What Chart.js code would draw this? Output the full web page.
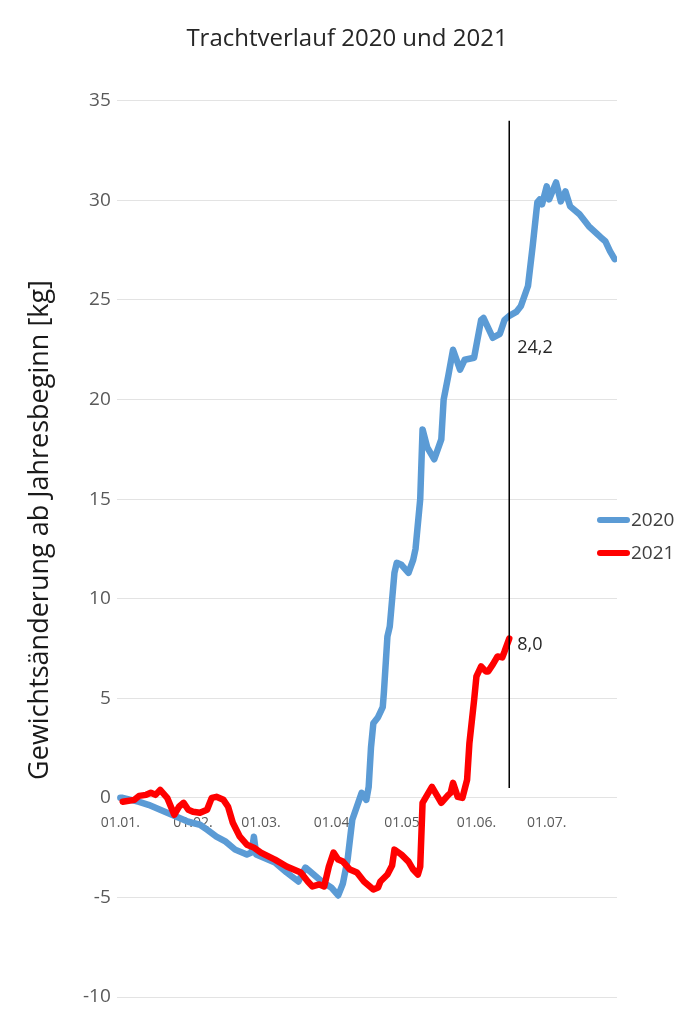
<!DOCTYPE html>
<html>
<head>
<meta charset="utf-8">
<title>Trachtverlauf 2020 und 2021</title>
<script src="https://cdn.jsdelivr.net/npm/chart.js@4.4.1/dist/chart.umd.min.js"></script>
<style>
  html, body { margin: 0; padding: 0; background: #fff; }
  #wrap { width: 685px; height: 1018px; position: relative; }
</style>
</head>
<body>
<div id="wrap"><canvas id="grafik"></canvas></div>
<script>
// Tage seit 01.01. und Gewichtsänderung [kg]
const tage2020 = [0, 1, 8, 12, 17, 21, 25, 29, 34, 37, 41, 45, 49, 54, 56, 57, 58, 60, 66, 71, 76, 79, 81, 86, 90, 93, 95, 97, 99,
  103, 105, 106, 107, 108, 110, 112, 112.5, 114, 115, 117, 118, 120, 123, 125, 126, 128, 129, 131, 134, 137, 138, 140, 142,
  145, 147, 151, 154, 155, 159, 162, 164, 166, 169, 171, 174, 176, 178, 179, 180, 182, 183, 186, 188, 190, 192, 196, 200,
  205, 207, 209, 211];
const werte2020 = [0, 0, -0.2, -0.35, -0.6, -0.8, -1.0, -1.2, -1.35, -1.6, -1.95, -2.2, -2.6, -2.85, -2.75, -1.95, -2.85, -2.95,
  -3.25, -3.75, -4.2, -3.5, -3.7, -4.2, -4.5, -4.9, -4.3, -3.1, -1.1,
  0.25, -0.1, 0.55, 2.55, 3.75, 4.05, 4.55, 5.3, 8.1, 8.6, 11.3, 11.8, 11.7, 11.3, 11.95, 12.5, 15.0, 18.5, 17.6, 17.0, 18.0,
  20.0, 21.2, 22.5, 21.5, 22.0, 22.1, 24.0, 24.1, 23.1, 23.3, 24.0, 24.2, 24.4, 24.7, 25.7, 27.7, 29.9, 30.05, 29.8, 30.7,
  30.05, 30.9, 29.95, 30.45, 29.7, 29.3, 28.7, 28.15, 27.95, 27.45, 27.05];

const tage2021 = [1, 6, 8, 11, 13, 15, 17, 20, 23, 25, 27, 29, 31, 34, 37, 39, 41, 44, 46, 48, 51, 54, 57, 60, 66, 71, 77, 80,
  82, 85, 87, 89, 91, 93, 95, 98, 101, 104, 108, 110, 111, 114, 116, 117, 120, 123, 125, 127, 128, 129, 131, 133, 135, 137,
  140, 141, 142, 144, 146, 148, 149, 151, 152, 154, 156, 157, 159, 161, 163, 164, 166];
const werte2021 = [-0.2, -0.1, 0.1, 0.15, 0.25, 0.15, 0.4, 0.0, -0.85, -0.45, -0.25, -0.6, -0.7, -0.75, -0.6, 0.0, 0.05, -0.1,
  -0.45, -1.25, -1.95, -2.35, -2.5, -2.75, -3.1, -3.45, -3.75, -4.2, -4.45, -4.35, -4.45, -3.45, -2.75, -3.1, -3.2, -3.6,
  -3.75, -4.2, -4.6, -4.5, -4.2, -3.85, -3.4, -2.6, -2.85, -3.2, -3.6, -3.85, -3.45, -0.25, 0.15, 0.55, 0.15, -0.25, 0.15,
  0.25, 0.75, 0.05, 0.0, 0.9, 2.75, 4.9, 6.1, 6.6, 6.35, 6.35, 6.7, 7.1, 7.05, 7.35, 8.0];

// senkrechte Stichtagslinie
const stichtag = 166;
const stichtagVonBis = [0.5, 34];

const monatsTage = [0, 31, 60, 91, 121, 152, 182];
const monatsLabels = ["01.01.", "01.02.", "01.03.", "01.04.", "01.05.", "01.06.", "01.07."];

const serienNamen = ["2020", "2021"];
const serienFarben = ["#5b9bd5", "#ff0000"];
const stichtagTexte = ["24,2", "8,0"];
const yTitel = "Gewichtsänderung ab Jahresbeginn [kg]";

const schrift = "'Open Sans', 'DejaVu Sans', sans-serif";

function punkte(xs, ys) {
  return xs.map((x, i) => ({ x: x, y: ys[i] }));
}

// Legende rechts neben den Linien
const legendePlugin = {
  id: "legende",
  afterDraw(chart) {
    const ctx = chart.ctx;
    ctx.save();
    ctx.font = "19px " + schrift;
    ctx.textBaseline = "middle";
    ctx.lineCap = "round";
    serienNamen.forEach((name, i) => {
      const y = 520 + i * 33;
      ctx.strokeStyle = serienFarben[i];
      ctx.lineWidth = 6;
      ctx.beginPath();
      ctx.moveTo(600, y);
      ctx.lineTo(627, y);
      ctx.stroke();
      ctx.fillStyle = "#404040";
      ctx.fillText(name, 631, y + 1);
    });
    ctx.restore();
  }
};

// Achsentitel links (etwas über der Mitte, wie im Original)
const yTitelPlugin = {
  id: "yTitel",
  afterDraw(chart) {
    const ctx = chart.ctx;
    ctx.save();
    ctx.translate(40, 530);
    ctx.rotate(-Math.PI / 2);
    ctx.font = "27px " + schrift;
    ctx.fillStyle = "#1a1a1a";
    ctx.textAlign = "center";
    ctx.textBaseline = "middle";
    ctx.fillText(yTitel, 0, 0);
    ctx.restore();
  }
};

// Werte am Stichtag beschriften
const stichtagPlugin = {
  id: "stichtagWerte",
  afterDatasetsDraw(chart) {
    const ctx = chart.ctx;
    const xs = chart.scales.x, ys = chart.scales.y;
    const werte = [werte2020[tage2020.indexOf(stichtag)], werte2021[werte2021.length - 1]];
    const versatz = [32, 6];
    ctx.save();
    ctx.font = "18px " + schrift;
    ctx.fillStyle = "#262626";
    ctx.textBaseline = "middle";
    werte.forEach((w, i) => {
      ctx.fillText(stichtagTexte[i], xs.getPixelForValue(stichtag) + 8, ys.getPixelForValue(w) + versatz[i]);
    });
    ctx.restore();
  }
};

window.addEventListener("load", () => {
  const ctx = document.getElementById("grafik").getContext("2d");

  new Chart(ctx, {
    type: "line",
    data: {
      datasets: [
        {
          label: "Stichtag",
          data: stichtagVonBis.map(v => ({ x: stichtag, y: v })),
          borderColor: "#000000",
          borderWidth: 1.5,
          pointRadius: 0,
          order: 0
        },
        {
          label: serienNamen[1],
          data: punkte(tage2021, werte2021),
          borderColor: serienFarben[1],
          borderWidth: 6.5,
          borderJoinStyle: "round",
          borderCapStyle: "round",
          pointRadius: 0,
          tension: 0,
          order: 1
        },
        {
          label: serienNamen[0],
          data: punkte(tage2020, werte2020),
          borderColor: serienFarben[0],
          borderWidth: 6.5,
          borderJoinStyle: "round",
          borderCapStyle: "round",
          pointRadius: 0,
          tension: 0,
          order: 2
        }
      ]
    },
    options: {
      responsive: true,
      maintainAspectRatio: false,
      animation: false,
      layout: { padding: { left: 77, right: 68, bottom: 21, top: 0 } },
      plugins: {
        legend: { display: false },
        tooltip: { enabled: false },
        title: {
          display: true,
          text: "Trachtverlauf 2020 und 2021",
          color: "#262626",
          font: { family: schrift, size: 24, weight: "normal" },
          padding: { top: 25, bottom: 47 }
        }
      },
      scales: {
        x: {
          type: "linear",
          position: { y: 0 },
          min: -1.5,
          max: 212,
          grid: { display: false },
          border: { display: false },
          afterBuildTicks: scale => {
            scale.ticks = monatsTage.map(v => ({ value: v }));
          },
          ticks: {
            autoSkip: false,
            maxRotation: 0,
            padding: 9,
            color: "#595959",
            font: { family: schrift, size: 14 },
            callback: v => monatsLabels[monatsTage.indexOf(v)]
          }
        },
        y: {
          min: -10,
          max: 35,
          ticks: {
            stepSize: 5,
            padding: 6,
            color: "#595959",
            font: { family: schrift, size: 19 }
          },
          grid: { color: "#e3e3e3", lineWidth: 1, drawTicks: false },
          border: { display: false }
        }
      }
    },
    plugins: [legendePlugin, yTitelPlugin, stichtagPlugin]
  });
});
</script>
</body>
</html>
